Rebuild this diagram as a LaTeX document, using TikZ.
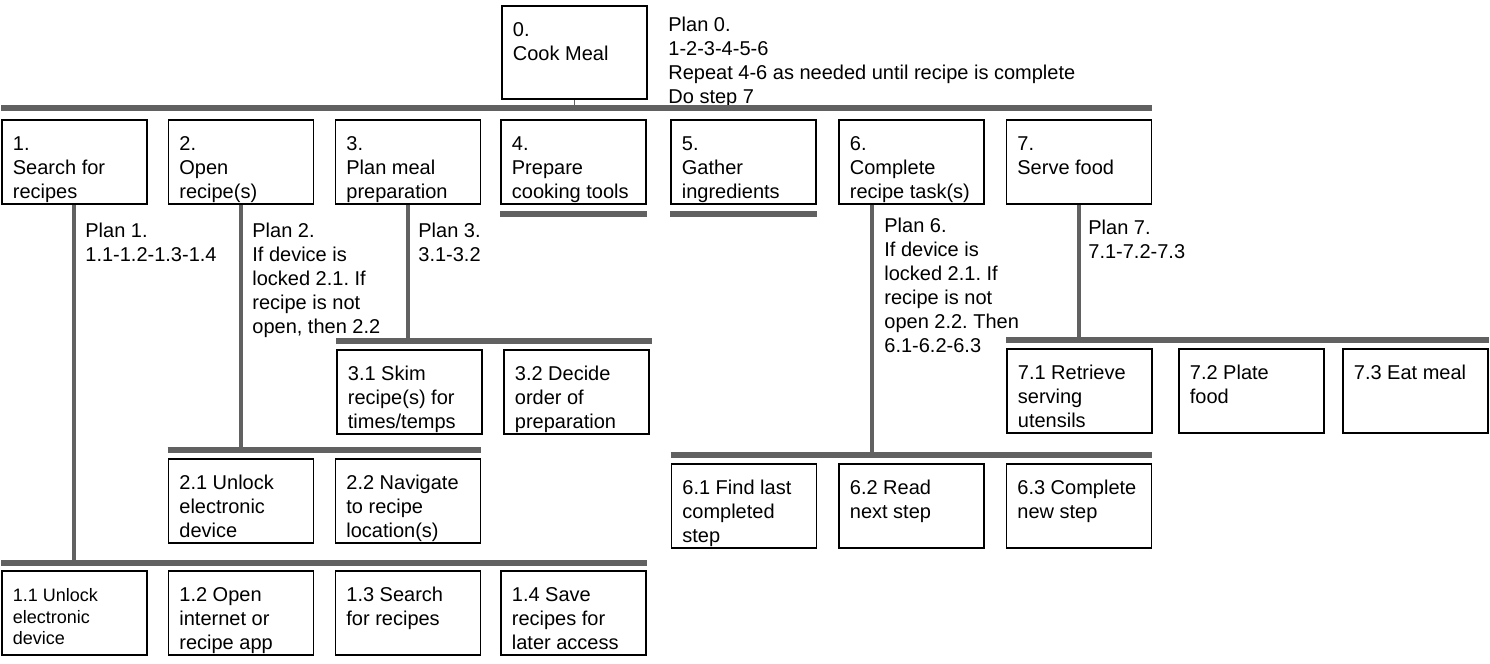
\documentclass[tikz,border=0pt]{standalone}
\usepackage{fontspec}
\setmainfont{Liberation Sans}
\usetikzlibrary{positioning}
\frenchspacing
\newcommand{\tasktext}[2][42pt]{\parbox[t][#1][t]{72.5pt}{\raggedright\leftskip=5.5pt\vspace*{7pt}\strut#2}}
\tikzset{
      taskbox/.style={
        draw=black,
        line width=0.9pt,
        anchor=north west,
        inner sep=0pt,
        font=\fontsize{10}{12}\selectfont
      },
      plantext/.style={
        anchor=north west,
        align=left,
        inner sep=0pt,
        font=\fontsize{10}{12}\selectfont
      },
      bar/.style={draw=black!62, line width=2.7pt},
      stem/.style={draw=black!62, line width=2pt},
      thinstem/.style={draw=black!62, line width=0.8pt}
    }
\begin{document}
\begin{tikzpicture}[x=0.5pt,y=-0.5pt]
    \useasboundingbox (0,0) rectangle (1490,664);
    % top task and its plan
    \node[taskbox] (t0) at (501,5) {\tasktext[46.5pt]{0.\\Cook Meal}};
    \node[plantext] (p0) at (668,17) {Plan 0.\\1-2-3-4-5-6\\Repeat 4-6 as needed until recipe is complete\\Do step 7};
    % first level
    \node[taskbox] (t1) at (1,119) {\tasktext{1.\\Search for\\recipes}};
    \node[taskbox] (t2) at (167.5,119) {\tasktext{2.\\Open\\recipe(s)}};
    \node[taskbox] (t3) at (334.5,119) {\tasktext{3.\\Plan meal\\preparation}};
    \node[taskbox] (t4) at (500,119) {\tasktext{4.\\Prepare\\cooking tools}};
    \node[taskbox] (t5) at (670,119) {\tasktext{5.\\Gather\\ingredients}};
    \node[taskbox] (t6) at (838,119) {\tasktext{6.\\Complete\\recipe task(s)}};
    \node[taskbox] (t7) at (1005.5,119) {\tasktext{7.\\Serve food}};
    % plans
    \node[plantext] (p1) at (85,223) {Plan 1.\\1.1-1.2-1.3-1.4};
    \node[plantext] (p2) at (252,223) {Plan 2.\\If device is\\locked 2.1. If\\recipe is not\\open, then 2.2};
    \node[plantext] (p3) at (418,223) {Plan 3.\\3.1-3.2};
    \node[plantext] (p6) at (884,218) {Plan 6.\\If device is\\locked 2.1. If\\recipe is not\\open 2.2. Then\\6.1-6.2-6.3};
    \node[plantext] (p7) at (1088,220) {Plan 7.\\7.1-7.2-7.3};
    % second level
    \node[taskbox] (t11) at (1,570) {\tasktext{\fontsize{9}{10.8}\selectfont 1.1 Unlock\\electronic\\device}};
    \node[taskbox] (t12) at (167.5,570) {\tasktext{1.2 Open\\internet or\\recipe app}};
    \node[taskbox] (t13) at (334.5,570) {\tasktext{1.3 Search\\for recipes}};
    \node[taskbox] (t14) at (500,570) {\tasktext{1.4 Save\\recipes for\\later access}};
    \node[taskbox] (t21) at (167.5,458) {\tasktext{2.1 Unlock\\electronic\\device}};
    \node[taskbox] (t22) at (334.5,458) {\tasktext{2.2 Navigate\\to recipe\\location(s)}};
    \node[taskbox] (t31) at (336,349) {\tasktext{3.1 Skim\\recipe(s) for\\times/temps}};
    \node[taskbox] (t32) at (503,349) {\tasktext{3.2 Decide\\order of\\preparation}};
    \node[taskbox] (t61) at (670.5,463) {\tasktext{6.1 Find last\\completed\\step}};
    \node[taskbox] (t62) at (838,463) {\tasktext{6.2 Read\\next step}};
    \node[taskbox] (t63) at (1005.5,463) {\tasktext{6.3 Complete\\new step}};
    \node[taskbox] (t71) at (1006,348) {\tasktext{7.1 Retrieve\\serving\\utensils}};
    \node[taskbox] (t72) at (1178,348) {\tasktext{7.2 Plate\\food}};
    \node[taskbox] (t73) at (1342,348) {\tasktext{7.3 Eat meal}};
    % bars and stems
    \coordinate (bar0) at ([yshift=5.5pt]t1.north);
    \draw[bar] ([yshift=5.5pt]t1.north west) -- ([yshift=5.5pt]t7.north east);
    \draw[thinstem] (t0.south) -- (t0.south |- bar0);
    \draw[bar] ([yshift=-4.5pt]t4.south west) -- ([yshift=-4.5pt]t4.south east);
    \draw[bar] ([yshift=-4.5pt]t5.south west) -- ([yshift=-4.5pt]t5.south east);
    \coordinate (bar1) at ([yshift=3.5pt]t11.north);
    \draw[bar] ([yshift=3.5pt]t11.north west) -- ([yshift=3.5pt]t14.north east);
    \draw[stem] (t1.south) -- (t1.south |- bar1);
    \coordinate (bar2) at ([yshift=4pt]t21.north);
    \draw[bar] ([yshift=4pt]t21.north west) -- ([yshift=4pt]t22.north east);
    \draw[stem] (t2.south) -- (t2.south |- bar2);
    \coordinate (bar3) at ([yshift=4pt]t31.north);
    \draw[bar] ([yshift=4pt]t31.north west) -- ([yshift=4pt,xshift=1pt]t32.north east);
    \draw[stem] (t3.south) -- (t3.south |- bar3);
    \coordinate (bar6) at ([yshift=4pt]t61.north);
    \draw[bar] ([yshift=4pt]t61.north west) -- ([yshift=4pt]t63.north east);
    \draw[stem] ([xshift=-19.75pt]t6.south) -- ([xshift=-19.75pt]t6.south |- bar6);
    \coordinate (bar7) at ([yshift=4pt]t71.north);
    \draw[bar] ([yshift=4pt]t71.north west) -- ([yshift=4pt]t73.north east);
    \draw[stem] (t7.south) -- (t7.south |- bar7);
\end{tikzpicture}
\end{document}
